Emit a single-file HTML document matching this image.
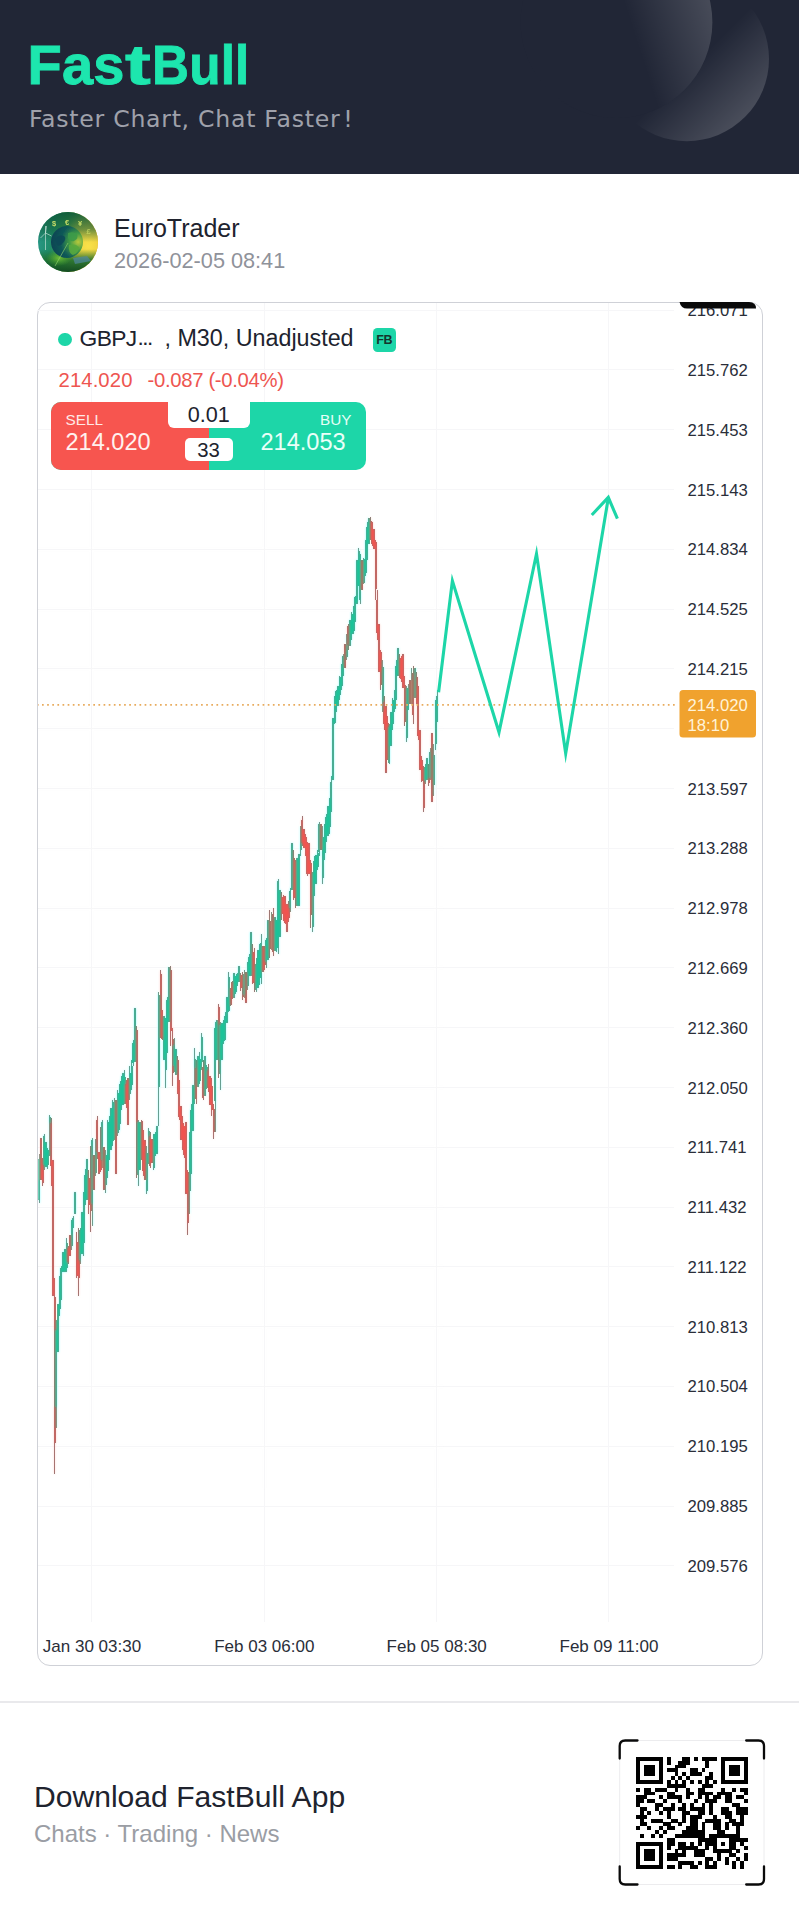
<!DOCTYPE html>
<html lang="en">
<head>
<meta charset="utf-8">
<title>FastBull – EuroTrader chart share</title>
<style>
html,body{margin:0;padding:0;background:#fff;}
body{width:799px;height:1920px;position:relative;overflow:hidden;font-family:"Liberation Sans",sans-serif;color:#20232e;}
.abs{position:absolute;white-space:nowrap;line-height:1;}
#hdr{position:absolute;left:0;top:0;width:799px;height:173.5px;background:#212636;overflow:hidden;}
#logo{left:27.5px;top:36.5px;font-size:56px;font-weight:bold;color:#1de6ae;letter-spacing:0.2px;-webkit-text-stroke:0.9px #1de6ae;}
#tag{left:29px;top:107.5px;font-size:23.6px;color:#9fa1ab;letter-spacing:0.72px;font-family:"DejaVu Sans",sans-serif;}
#avatar{left:38px;top:211.5px;width:60px;height:60px;}
#uname{left:114px;top:215.5px;font-size:25px;color:#20232e;}
#udate{left:114px;top:249.5px;font-size:21.7px;color:#8f929a;}
#card{position:absolute;left:37px;top:302px;width:724px;height:1362px;border:1px solid #cfd1d7;border-radius:13px;box-sizing:content-box;}
#sep{position:absolute;left:0;top:1701px;width:799px;height:1.5px;background:#e9e9ec;}
#dl1{left:34px;top:1782px;font-size:30.1px;color:#20232e;}
#dl2{left:34px;top:1821.5px;font-size:24px;color:#9a9da4;}
svg{position:absolute;left:0;top:0;}
svg text{font-family:"Liberation Sans",sans-serif;}
</style>
</head>
<body>
<div id="hdr">
<svg width="799" height="174" viewBox="0 0 799 174">
<defs>
<linearGradient id="g2" gradientUnits="userSpaceOnUse" x1="682" y1="76" x2="732" y2="126">
<stop offset="0" stop-color="#fff" stop-opacity="0"/><stop offset="1" stop-color="#fff" stop-opacity="0.175"/></linearGradient>
<linearGradient id="g1" gradientUnits="userSpaceOnUse" x1="636" y1="40" x2="714" y2="15">
<stop offset="0" stop-color="#fff" stop-opacity="0"/><stop offset="1" stop-color="#fff" stop-opacity="0.17"/></linearGradient>
</defs>
<circle cx="686.8" cy="59" r="82.2" fill="url(#g2)"/>
<circle cx="616.5" cy="22.2" r="95.9" fill="#212636"/>
<circle cx="616.5" cy="22.2" r="95.9" fill="url(#g1)"/>
</svg>
<div id="logo" class="abs"><span id="lg1">Fas</span><span id="lg2" style="display:inline-block;transform:scaleX(1.38);transform-origin:0 50%;margin-right:8.6px">t</span><span id="lg3" style="display:inline-block;transform:scaleX(0.915);transform-origin:0 50%">Bull</span></div>
<div id="tag" class="abs"><span id="w1">Faster</span> <span id="w2">Chart,</span> <span id="w3">Chat</span> <span id="w4">Faster</span><span id="w5" style="margin-left:3px">!</span></div>
</div>

<svg id="avatar" class="abs" width="60" height="60" viewBox="0 0 60 60" style="left:38px;top:211.5px;">
<defs>
<clipPath id="avc"><circle cx="30" cy="30" r="30"/></clipPath>
<linearGradient id="avbg" x1="0" y1="0" x2="1" y2="0.15">
<stop offset="0" stop-color="#2a9a8e"/><stop offset="0.28" stop-color="#1f8c6a"/><stop offset="0.5" stop-color="#4a9f45"/><stop offset="0.68" stop-color="#bcc43a"/><stop offset="0.86" stop-color="#ecc934"/><stop offset="1" stop-color="#dc9a28"/></linearGradient>
<radialGradient id="avsun" cx="0.84" cy="0.57" r="0.48"><stop offset="0" stop-color="#f9e24a"/><stop offset="0.55" stop-color="#eed23e" stop-opacity="0.9"/><stop offset="1" stop-color="#d6c23a" stop-opacity="0"/></radialGradient>
<linearGradient id="avtop" x1="0" y1="0" x2="0" y2="1"><stop offset="0" stop-color="#0f5a3c" stop-opacity="0.95"/><stop offset="0.3" stop-color="#12603f" stop-opacity="0.55"/><stop offset="0.5" stop-color="#12603f" stop-opacity="0"/></linearGradient>
<linearGradient id="avbot" x1="0" y1="0" x2="0" y2="1"><stop offset="0.62" stop-color="#1d6a2c" stop-opacity="0"/><stop offset="0.8" stop-color="#1f7030" stop-opacity="0.9"/><stop offset="1" stop-color="#134a22"/></linearGradient>
<radialGradient id="avglobe" cx="0.85" cy="0.5" r="0.9"><stop offset="0" stop-color="#b7c93c"/><stop offset="0.3" stop-color="#3f9a46"/><stop offset="0.6" stop-color="#115a58"/><stop offset="1" stop-color="#0b3f52"/></radialGradient>
<radialGradient id="avgrass" cx="0.5" cy="0.5" r="0.5"><stop offset="0" stop-color="#6dbb35"/><stop offset="1" stop-color="#4aa030" stop-opacity="0"/></radialGradient>
<filter id="avblur" x="-20%" y="-20%" width="140%" height="140%"><feGaussianBlur stdDeviation="0.7"/></filter>
</defs>
<g clip-path="url(#avc)">
<rect width="60" height="60" fill="url(#avbg)"/>
<rect width="60" height="60" fill="url(#avsun)"/>
<rect width="60" height="60" fill="url(#avtop)"/>
<rect width="60" height="60" fill="url(#avbot)"/>
<g filter="url(#avblur)">
<ellipse cx="21" cy="46" rx="13" ry="8" fill="url(#avgrass)"/>
<circle cx="29" cy="30" r="16" fill="url(#avglobe)"/>
<path d="M17 27q4-5 9-3q3 3-1 7q-3 4-6 2z" fill="#0c4658" opacity="0.8"/>
<path d="M30 21q5-2 9 1q2 5-3 7q-4 1-6-3z" fill="#3c9a48" opacity="0.9"/>
<path d="M31 33q6-2 10 2q0 6-6 8q-5-2-4-10z" fill="#58a83e" opacity="0.9"/>
<path d="M35 46l14-2l4 5l-16 3z" fill="#4f86a0" opacity="0.7"/>
<path d="M30 31L17 54" stroke="#8fd06a" stroke-width="0.8" opacity="0.8"/>
<path d="M7.5 14V38M7.500 21l-5 5M7.500 21l6 3M7.500 21l1-7" stroke="#d9efe6" stroke-width="0.8" opacity="0.75" fill="none"/>
</g>
<g font-family="Liberation Sans, sans-serif" font-size="7.5" font-weight="bold" fill="#d3e46a" text-anchor="middle" opacity="0.92">
<text x="16" y="13.500">$</text><text x="29" y="12.500">€</text><text x="42" y="13.500">¥</text><text x="50.5" y="21.500" opacity="0.7">£</text>
</g>
</g>
</svg>
<div id="uname" class="abs">EuroTrader</div>
<div id="udate" class="abs">2026-02-05 08:41</div>

<div id="card"></div>

<svg width="799" height="1920" viewBox="0 0 799 1920">
<g fill="none" shape-rendering="crispEdges">
<path d="M38 310.5H674" stroke="#f6f6f8" stroke-width="1"/>
<path d="M38 369.5H674" stroke="#f6f6f8" stroke-width="1"/>
<path d="M38 429.5H674" stroke="#f6f6f8" stroke-width="1"/>
<path d="M38 489.5H674" stroke="#f6f6f8" stroke-width="1"/>
<path d="M38 549.5H674" stroke="#f6f6f8" stroke-width="1"/>
<path d="M38 609.5H674" stroke="#f6f6f8" stroke-width="1"/>
<path d="M38 668.5H674" stroke="#f6f6f8" stroke-width="1"/>
<path d="M38 728.5H674" stroke="#f6f6f8" stroke-width="1"/>
<path d="M38 788.5H674" stroke="#f6f6f8" stroke-width="1"/>
<path d="M38 848.5H674" stroke="#f6f6f8" stroke-width="1"/>
<path d="M38 908.5H674" stroke="#f6f6f8" stroke-width="1"/>
<path d="M38 967.5H674" stroke="#f6f6f8" stroke-width="1"/>
<path d="M38 1027.5H674" stroke="#f6f6f8" stroke-width="1"/>
<path d="M38 1087.5H674" stroke="#f6f6f8" stroke-width="1"/>
<path d="M38 1147.5H674" stroke="#f6f6f8" stroke-width="1"/>
<path d="M38 1207.5H674" stroke="#f6f6f8" stroke-width="1"/>
<path d="M38 1266.5H674" stroke="#f6f6f8" stroke-width="1"/>
<path d="M38 1326.5H674" stroke="#f6f6f8" stroke-width="1"/>
<path d="M38 1386.5H674" stroke="#f6f6f8" stroke-width="1"/>
<path d="M38 1446.5H674" stroke="#f6f6f8" stroke-width="1"/>
<path d="M38 1506.5H674" stroke="#f6f6f8" stroke-width="1"/>
<path d="M38 1565.5H674" stroke="#f6f6f8" stroke-width="1"/>
<path d="M91.5 303V1622" stroke="#f6f6f8" stroke-width="1"/>
<path d="M264.5 303V1622" stroke="#f6f6f8" stroke-width="1"/>
<path d="M436.5 303V1622" stroke="#f6f6f8" stroke-width="1"/>
<path d="M608.5 303V1622" stroke="#f6f6f8" stroke-width="1"/>
</g>
<!-- black drag bar clipped at top-right of price axis -->
<defs>
<filter id="chroma" filterUnits="userSpaceOnUse" x="38" y="500" width="406" height="990" color-interpolation-filters="sRGB">
<feGaussianBlur in="SourceGraphic" stdDeviation="1.1 0.9" result="B"/>
<feColorMatrix in="SourceGraphic" type="matrix" values="0.299 0.587 0.114 0 0  0.299 0.587 0.114 0 0  0.299 0.587 0.114 0 0  0 0 0 0 1" result="Ys"/>
<feColorMatrix in="B" type="matrix" values="0.299 0.587 0.114 0 0  0.299 0.587 0.114 0 0  0.299 0.587 0.114 0 0  0 0 0 0 1" result="Yb"/>
<feComposite in="Ys" in2="B" operator="arithmetic" k1="0" k2="0.5" k3="0.5" k4="0" result="T"/>
<feComposite in="T" in2="Yb" operator="arithmetic" k1="0" k2="2" k3="-1" k4="0"/>
</filter>
</defs>
<g filter="url(#chroma)">
<rect x="38" y="500" width="406" height="990" fill="#fff"/>
<g fill="none" shape-rendering="crispEdges">
<path d="M38 310.5H674" stroke="#f6f6f8" stroke-width="1"/>
<path d="M38 369.5H674" stroke="#f6f6f8" stroke-width="1"/>
<path d="M38 429.5H674" stroke="#f6f6f8" stroke-width="1"/>
<path d="M38 489.5H674" stroke="#f6f6f8" stroke-width="1"/>
<path d="M38 549.5H674" stroke="#f6f6f8" stroke-width="1"/>
<path d="M38 609.5H674" stroke="#f6f6f8" stroke-width="1"/>
<path d="M38 668.5H674" stroke="#f6f6f8" stroke-width="1"/>
<path d="M38 728.5H674" stroke="#f6f6f8" stroke-width="1"/>
<path d="M38 788.5H674" stroke="#f6f6f8" stroke-width="1"/>
<path d="M38 848.5H674" stroke="#f6f6f8" stroke-width="1"/>
<path d="M38 908.5H674" stroke="#f6f6f8" stroke-width="1"/>
<path d="M38 967.5H674" stroke="#f6f6f8" stroke-width="1"/>
<path d="M38 1027.5H674" stroke="#f6f6f8" stroke-width="1"/>
<path d="M38 1087.5H674" stroke="#f6f6f8" stroke-width="1"/>
<path d="M38 1147.5H674" stroke="#f6f6f8" stroke-width="1"/>
<path d="M38 1207.5H674" stroke="#f6f6f8" stroke-width="1"/>
<path d="M38 1266.5H674" stroke="#f6f6f8" stroke-width="1"/>
<path d="M38 1326.5H674" stroke="#f6f6f8" stroke-width="1"/>
<path d="M38 1386.5H674" stroke="#f6f6f8" stroke-width="1"/>
<path d="M38 1446.5H674" stroke="#f6f6f8" stroke-width="1"/>
<path d="M38 1506.5H674" stroke="#f6f6f8" stroke-width="1"/>
<path d="M38 1565.5H674" stroke="#f6f6f8" stroke-width="1"/>
<path d="M91.5 303V1622" stroke="#f6f6f8" stroke-width="1"/>
<path d="M264.5 303V1622" stroke="#f6f6f8" stroke-width="1"/>
<path d="M436.5 303V1622" stroke="#f6f6f8" stroke-width="1"/>
<path d="M608.5 303V1622" stroke="#f6f6f8" stroke-width="1"/>
</g>
<g fill="none" shape-rendering="crispEdges">
<path d="M39.2 1154.0V1203.0" stroke="#1bc49a" stroke-width="1.3"/>
<path d="M39.2 1158.5V1200.1" stroke="#1bc49a" stroke-width="2.0"/>
<path d="M40.9 1138.0V1180.0" stroke="#f0544f" stroke-width="1.3"/>
<path d="M40.9 1144.5V1178.2" stroke="#f0544f" stroke-width="2.0"/>
<path d="M42.7 1158.0V1186.0" stroke="#f0544f" stroke-width="1.3"/>
<path d="M42.7 1161.7V1183.2" stroke="#f0544f" stroke-width="2.0"/>
<path d="M44.4 1134.0V1170.0" stroke="#1bc49a" stroke-width="1.3"/>
<path d="M44.4 1135.5V1165.4" stroke="#1bc49a" stroke-width="2.0"/>
<path d="M46.1 1141.7V1167.3" stroke="#1bc49a" stroke-width="1.3"/>
<path d="M46.1 1142.8V1166.1" stroke="#1bc49a" stroke-width="2.0"/>
<path d="M47.8 1148.0V1169.0" stroke="#1bc49a" stroke-width="1.3"/>
<path d="M47.8 1150.3V1165.1" stroke="#1bc49a" stroke-width="2.0"/>
<path d="M49.5 1115.0V1156.0" stroke="#1bc49a" stroke-width="1.3"/>
<path d="M49.5 1117.2V1153.0" stroke="#1bc49a" stroke-width="2.0"/>
<path d="M51.2 1118.0V1186.0" stroke="#f0544f" stroke-width="1.3"/>
<path d="M51.2 1122.8V1166.1" stroke="#f0544f" stroke-width="2.0"/>
<path d="M52.9 1160.0V1296.0" stroke="#f0544f" stroke-width="1.3"/>
<path d="M52.9 1169.0V1267.5" stroke="#f0544f" stroke-width="2.0"/>
<path d="M54.6 1278.0V1474.0" stroke="#f0544f" stroke-width="1.3"/>
<path d="M54.6 1297.2V1443.2" stroke="#f0544f" stroke-width="2.0"/>
<path d="M56.3 1320.0V1428.0" stroke="#1bc49a" stroke-width="1.3"/>
<path d="M56.3 1329.6V1407.1" stroke="#1bc49a" stroke-width="2.0"/>
<path d="M58.0 1304.0V1352.0" stroke="#1bc49a" stroke-width="1.3"/>
<path d="M58.0 1306.8V1349.5" stroke="#1bc49a" stroke-width="2.0"/>
<path d="M59.7 1276.0V1316.0" stroke="#1bc49a" stroke-width="1.3"/>
<path d="M59.7 1279.5V1308.6" stroke="#1bc49a" stroke-width="2.0"/>
<path d="M61.4 1266.0V1300.0" stroke="#1bc49a" stroke-width="1.3"/>
<path d="M61.4 1268.2V1295.2" stroke="#1bc49a" stroke-width="2.0"/>
<path d="M63.1 1252.0V1272.0" stroke="#1bc49a" stroke-width="1.3"/>
<path d="M63.1 1255.0V1270.0" stroke="#1bc49a" stroke-width="2.0"/>
<path d="M64.9 1248.6V1271.7" stroke="#1bc49a" stroke-width="1.3"/>
<path d="M64.9 1249.5V1270.1" stroke="#1bc49a" stroke-width="2.0"/>
<path d="M66.6 1238.0V1272.0" stroke="#1bc49a" stroke-width="1.3"/>
<path d="M66.6 1243.4V1268.2" stroke="#1bc49a" stroke-width="2.0"/>
<path d="M68.3 1246.0V1264.0" stroke="#f0544f" stroke-width="1.3"/>
<path d="M68.3 1247.6V1261.5" stroke="#f0544f" stroke-width="2.0"/>
<path d="M70.0 1235.2V1255.9" stroke="#f0544f" stroke-width="1.3"/>
<path d="M70.0 1238.9V1252.5" stroke="#f0544f" stroke-width="2.0"/>
<path d="M71.7 1220.0V1250.0" stroke="#1bc49a" stroke-width="1.3"/>
<path d="M71.7 1222.3V1245.8" stroke="#1bc49a" stroke-width="2.0"/>
<path d="M73.4 1216.0V1228.0" stroke="#1bc49a" stroke-width="1.3"/>
<path d="M73.4 1217.6V1225.6" stroke="#1bc49a" stroke-width="2.0"/>
<path d="M75.1 1192.0V1214.0" stroke="#1bc49a" stroke-width="1.3"/>
<path d="M75.1 1195.7V1212.1" stroke="#1bc49a" stroke-width="2.0"/>
<path d="M76.8 1232.0V1278.0" stroke="#f0544f" stroke-width="1.3"/>
<path d="M76.8 1241.9V1275.6" stroke="#f0544f" stroke-width="2.0"/>
<path d="M78.5 1228.0V1296.0" stroke="#f0544f" stroke-width="1.3"/>
<path d="M78.5 1231.6V1278.1" stroke="#f0544f" stroke-width="2.0"/>
<path d="M80.2 1228.0V1264.0" stroke="#1bc49a" stroke-width="1.3"/>
<path d="M80.2 1230.1V1259.6" stroke="#1bc49a" stroke-width="2.0"/>
<path d="M81.9 1211.5V1254.3" stroke="#1bc49a" stroke-width="1.3"/>
<path d="M81.9 1219.0V1248.4" stroke="#1bc49a" stroke-width="2.0"/>
<path d="M83.6 1192.0V1256.0" stroke="#1bc49a" stroke-width="1.3"/>
<path d="M83.6 1197.8V1243.4" stroke="#1bc49a" stroke-width="2.0"/>
<path d="M85.4 1169.0V1205.0" stroke="#1bc49a" stroke-width="1.3"/>
<path d="M85.4 1174.8V1199.9" stroke="#1bc49a" stroke-width="2.0"/>
<path d="M87.1 1159.0V1200.0" stroke="#1bc49a" stroke-width="1.3"/>
<path d="M87.1 1164.7V1195.2" stroke="#1bc49a" stroke-width="2.0"/>
<path d="M88.8 1170.0V1214.0" stroke="#f0544f" stroke-width="1.3"/>
<path d="M88.8 1178.3V1204.8" stroke="#f0544f" stroke-width="2.0"/>
<path d="M90.5 1146.0V1232.0" stroke="#f0544f" stroke-width="1.3"/>
<path d="M90.5 1151.0V1210.5" stroke="#f0544f" stroke-width="2.0"/>
<path d="M92.2 1138.0V1226.0" stroke="#1bc49a" stroke-width="1.3"/>
<path d="M92.2 1140.2V1203.5" stroke="#1bc49a" stroke-width="2.0"/>
<path d="M93.9 1155.0V1190.0" stroke="#f0544f" stroke-width="1.3"/>
<path d="M93.9 1160.4V1182.3" stroke="#f0544f" stroke-width="2.0"/>
<path d="M95.6 1139.0V1176.0" stroke="#1bc49a" stroke-width="1.3"/>
<path d="M95.6 1145.9V1172.9" stroke="#1bc49a" stroke-width="2.0"/>
<path d="M97.3 1115.5V1159.0" stroke="#f0544f" stroke-width="1.3"/>
<path d="M97.3 1120.0V1152.2" stroke="#f0544f" stroke-width="2.0"/>
<path d="M99.0 1152.0V1174.0" stroke="#f0544f" stroke-width="1.3"/>
<path d="M99.0 1152.8V1171.4" stroke="#f0544f" stroke-width="2.0"/>
<path d="M100.7 1127.0V1172.0" stroke="#f0544f" stroke-width="1.3"/>
<path d="M100.7 1129.8V1169.6" stroke="#f0544f" stroke-width="2.0"/>
<path d="M102.4 1120.0V1168.0" stroke="#1bc49a" stroke-width="1.3"/>
<path d="M102.4 1122.0V1159.6" stroke="#1bc49a" stroke-width="2.0"/>
<path d="M104.1 1147.0V1190.0" stroke="#f0544f" stroke-width="1.3"/>
<path d="M104.1 1149.3V1186.7" stroke="#f0544f" stroke-width="2.0"/>
<path d="M105.8 1150.0V1193.0" stroke="#1bc49a" stroke-width="1.3"/>
<path d="M105.8 1154.5V1184.6" stroke="#1bc49a" stroke-width="2.0"/>
<path d="M107.6 1120.0V1178.0" stroke="#1bc49a" stroke-width="1.3"/>
<path d="M107.6 1122.6V1171.3" stroke="#1bc49a" stroke-width="2.0"/>
<path d="M109.3 1116.0V1160.0" stroke="#1bc49a" stroke-width="1.3"/>
<path d="M109.3 1121.9V1151.3" stroke="#1bc49a" stroke-width="2.0"/>
<path d="M111.0 1108.0V1150.0" stroke="#1bc49a" stroke-width="1.3"/>
<path d="M111.0 1115.8V1141.8" stroke="#1bc49a" stroke-width="2.0"/>
<path d="M112.7 1100.0V1146.0" stroke="#1bc49a" stroke-width="1.3"/>
<path d="M112.7 1103.8V1141.0" stroke="#1bc49a" stroke-width="2.0"/>
<path d="M114.4 1098.0V1140.0" stroke="#1bc49a" stroke-width="1.3"/>
<path d="M114.4 1102.1V1131.7" stroke="#1bc49a" stroke-width="2.0"/>
<path d="M116.1 1100.0V1174.0" stroke="#f0544f" stroke-width="1.3"/>
<path d="M116.1 1107.1V1161.2" stroke="#f0544f" stroke-width="2.0"/>
<path d="M117.8 1090.0V1136.0" stroke="#1bc49a" stroke-width="1.3"/>
<path d="M117.8 1092.9V1132.6" stroke="#1bc49a" stroke-width="2.0"/>
<path d="M119.5 1084.0V1130.0" stroke="#1bc49a" stroke-width="1.3"/>
<path d="M119.5 1087.4V1124.4" stroke="#1bc49a" stroke-width="2.0"/>
<path d="M121.2 1076.0V1110.0" stroke="#1bc49a" stroke-width="1.3"/>
<path d="M121.2 1080.8V1107.3" stroke="#1bc49a" stroke-width="2.0"/>
<path d="M122.9 1073.2V1104.7" stroke="#1bc49a" stroke-width="1.3"/>
<path d="M122.9 1076.4V1100.3" stroke="#1bc49a" stroke-width="2.0"/>
<path d="M124.6 1070.0V1104.0" stroke="#1bc49a" stroke-width="1.3"/>
<path d="M124.6 1077.2V1098.5" stroke="#1bc49a" stroke-width="2.0"/>
<path d="M126.3 1080.0V1108.0" stroke="#f0544f" stroke-width="1.3"/>
<path d="M126.3 1083.6V1103.9" stroke="#f0544f" stroke-width="2.0"/>
<path d="M128.1 1078.0V1125.0" stroke="#f0544f" stroke-width="1.3"/>
<path d="M128.1 1085.4V1123.1" stroke="#f0544f" stroke-width="2.0"/>
<path d="M129.8 1066.0V1100.0" stroke="#1bc49a" stroke-width="1.3"/>
<path d="M129.8 1072.8V1093.9" stroke="#1bc49a" stroke-width="2.0"/>
<path d="M131.5 1060.0V1090.0" stroke="#1bc49a" stroke-width="1.3"/>
<path d="M131.5 1065.9V1084.6" stroke="#1bc49a" stroke-width="2.0"/>
<path d="M133.2 1040.0V1066.0" stroke="#1bc49a" stroke-width="1.3"/>
<path d="M133.2 1042.7V1063.2" stroke="#1bc49a" stroke-width="2.0"/>
<path d="M134.9 1008.0V1062.0" stroke="#1bc49a" stroke-width="1.3"/>
<path d="M134.9 1010.7V1053.9" stroke="#1bc49a" stroke-width="2.0"/>
<path d="M136.6 1026.0V1178.0" stroke="#f0544f" stroke-width="1.3"/>
<path d="M136.6 1029.8V1153.7" stroke="#f0544f" stroke-width="2.0"/>
<path d="M138.3 1120.0V1186.0" stroke="#1bc49a" stroke-width="1.3"/>
<path d="M138.3 1122.4V1174.5" stroke="#1bc49a" stroke-width="2.0"/>
<path d="M140.0 1122.0V1170.0" stroke="#1bc49a" stroke-width="1.3"/>
<path d="M140.0 1126.5V1168.1" stroke="#1bc49a" stroke-width="2.0"/>
<path d="M141.7 1120.0V1160.0" stroke="#f0544f" stroke-width="1.3"/>
<path d="M141.7 1121.2V1157.7" stroke="#f0544f" stroke-width="2.0"/>
<path d="M143.4 1130.0V1176.0" stroke="#f0544f" stroke-width="1.3"/>
<path d="M143.4 1132.3V1171.4" stroke="#f0544f" stroke-width="2.0"/>
<path d="M145.1 1140.0V1180.0" stroke="#f0544f" stroke-width="1.3"/>
<path d="M145.1 1141.4V1172.2" stroke="#f0544f" stroke-width="2.0"/>
<path d="M146.8 1146.0V1194.0" stroke="#1bc49a" stroke-width="1.3"/>
<path d="M146.8 1153.0V1191.2" stroke="#1bc49a" stroke-width="2.0"/>
<path d="M148.5 1128.0V1164.0" stroke="#1bc49a" stroke-width="1.3"/>
<path d="M148.5 1130.8V1160.5" stroke="#1bc49a" stroke-width="2.0"/>
<path d="M150.3 1132.0V1168.0" stroke="#f0544f" stroke-width="1.3"/>
<path d="M150.3 1135.6V1166.1" stroke="#f0544f" stroke-width="2.0"/>
<path d="M152.0 1138.5V1162.5" stroke="#f0544f" stroke-width="1.3"/>
<path d="M152.0 1141.3V1159.6" stroke="#f0544f" stroke-width="2.0"/>
<path d="M153.7 1134.0V1170.0" stroke="#1bc49a" stroke-width="1.3"/>
<path d="M153.7 1135.7V1168.2" stroke="#1bc49a" stroke-width="2.0"/>
<path d="M155.4 1132.0V1156.0" stroke="#1bc49a" stroke-width="1.3"/>
<path d="M155.4 1134.3V1154.1" stroke="#1bc49a" stroke-width="2.0"/>
<path d="M157.1 1126.0V1154.0" stroke="#1bc49a" stroke-width="1.3"/>
<path d="M157.1 1131.2V1152.3" stroke="#1bc49a" stroke-width="2.0"/>
<path d="M158.8 992.0V1126.0" stroke="#1bc49a" stroke-width="1.3"/>
<path d="M158.8 994.9V1086.8" stroke="#1bc49a" stroke-width="2.0"/>
<path d="M160.5 970.0V1038.0" stroke="#f0544f" stroke-width="1.3"/>
<path d="M160.5 974.2V1026.3" stroke="#f0544f" stroke-width="2.0"/>
<path d="M162.2 1010.0V1040.0" stroke="#f0544f" stroke-width="1.3"/>
<path d="M162.2 1014.0V1038.9" stroke="#f0544f" stroke-width="2.0"/>
<path d="M163.9 1016.0V1060.0" stroke="#1bc49a" stroke-width="1.3"/>
<path d="M163.9 1021.7V1050.5" stroke="#1bc49a" stroke-width="2.0"/>
<path d="M165.6 1018.0V1088.0" stroke="#1bc49a" stroke-width="1.3"/>
<path d="M165.6 1024.2V1070.2" stroke="#1bc49a" stroke-width="2.0"/>
<path d="M167.3 996.8V1052.6" stroke="#1bc49a" stroke-width="1.3"/>
<path d="M167.3 1000.3V1042.8" stroke="#1bc49a" stroke-width="2.0"/>
<path d="M169.0 967.0V1022.0" stroke="#1bc49a" stroke-width="1.3"/>
<path d="M169.0 974.2V1012.2" stroke="#1bc49a" stroke-width="2.0"/>
<path d="M170.8 966.0V1046.0" stroke="#f0544f" stroke-width="1.3"/>
<path d="M170.8 969.7V1031.3" stroke="#f0544f" stroke-width="2.0"/>
<path d="M172.5 1028.0V1086.0" stroke="#f0544f" stroke-width="1.3"/>
<path d="M172.5 1038.7V1073.4" stroke="#f0544f" stroke-width="2.0"/>
<path d="M174.2 1038.0V1072.0" stroke="#1bc49a" stroke-width="1.3"/>
<path d="M174.2 1044.5V1065.8" stroke="#1bc49a" stroke-width="2.0"/>
<path d="M175.9 1049.3V1074.7" stroke="#1bc49a" stroke-width="1.3"/>
<path d="M175.9 1051.1V1071.4" stroke="#1bc49a" stroke-width="2.0"/>
<path d="M177.6 1056.0V1094.0" stroke="#f0544f" stroke-width="1.3"/>
<path d="M177.6 1059.7V1092.7" stroke="#f0544f" stroke-width="2.0"/>
<path d="M179.3 1080.0V1120.0" stroke="#f0544f" stroke-width="1.3"/>
<path d="M179.3 1081.4V1116.7" stroke="#f0544f" stroke-width="2.0"/>
<path d="M181.0 1106.0V1140.0" stroke="#f0544f" stroke-width="1.3"/>
<path d="M181.0 1108.7V1134.5" stroke="#f0544f" stroke-width="2.0"/>
<path d="M182.7 1116.0V1150.0" stroke="#f0544f" stroke-width="1.3"/>
<path d="M182.7 1123.2V1146.1" stroke="#f0544f" stroke-width="2.0"/>
<path d="M184.4 1126.3V1157.8" stroke="#f0544f" stroke-width="1.3"/>
<path d="M184.4 1133.0V1154.6" stroke="#f0544f" stroke-width="2.0"/>
<path d="M186.1 1122.0V1194.0" stroke="#f0544f" stroke-width="1.3"/>
<path d="M186.1 1124.7V1180.8" stroke="#f0544f" stroke-width="2.0"/>
<path d="M187.8 1170.0V1235.0" stroke="#f0544f" stroke-width="1.3"/>
<path d="M187.8 1172.3V1223.3" stroke="#f0544f" stroke-width="2.0"/>
<path d="M189.5 1132.0V1214.0" stroke="#1bc49a" stroke-width="1.3"/>
<path d="M189.5 1137.7V1190.6" stroke="#1bc49a" stroke-width="2.0"/>
<path d="M191.2 1104.0V1174.0" stroke="#1bc49a" stroke-width="1.3"/>
<path d="M191.2 1110.1V1158.5" stroke="#1bc49a" stroke-width="2.0"/>
<path d="M193.0 1084.7V1131.4" stroke="#1bc49a" stroke-width="1.3"/>
<path d="M193.0 1086.8V1124.2" stroke="#1bc49a" stroke-width="2.0"/>
<path d="M194.7 1048.0V1104.0" stroke="#1bc49a" stroke-width="1.3"/>
<path d="M194.7 1059.4V1094.0" stroke="#1bc49a" stroke-width="2.0"/>
<path d="M196.4 1060.0V1104.0" stroke="#f0544f" stroke-width="1.3"/>
<path d="M196.4 1067.6V1098.7" stroke="#f0544f" stroke-width="2.0"/>
<path d="M198.1 1056.2V1086.5" stroke="#1bc49a" stroke-width="1.3"/>
<path d="M198.1 1059.1V1081.0" stroke="#1bc49a" stroke-width="2.0"/>
<path d="M199.8 1052.0V1084.0" stroke="#1bc49a" stroke-width="1.3"/>
<path d="M199.8 1058.9V1080.6" stroke="#1bc49a" stroke-width="2.0"/>
<path d="M201.5 1033.0V1070.0" stroke="#1bc49a" stroke-width="1.3"/>
<path d="M201.5 1036.9V1062.2" stroke="#1bc49a" stroke-width="2.0"/>
<path d="M203.2 1060.0V1100.0" stroke="#f0544f" stroke-width="1.3"/>
<path d="M203.2 1066.7V1097.5" stroke="#f0544f" stroke-width="2.0"/>
<path d="M204.9 1056.0V1096.0" stroke="#1bc49a" stroke-width="1.3"/>
<path d="M204.9 1058.2V1093.7" stroke="#1bc49a" stroke-width="2.0"/>
<path d="M206.6 1065.1V1089.2" stroke="#1bc49a" stroke-width="1.3"/>
<path d="M206.6 1066.5V1084.7" stroke="#1bc49a" stroke-width="2.0"/>
<path d="M208.3 1064.0V1092.0" stroke="#f0544f" stroke-width="1.3"/>
<path d="M208.3 1070.1V1087.7" stroke="#f0544f" stroke-width="2.0"/>
<path d="M210.0 1075.7V1104.9" stroke="#f0544f" stroke-width="1.3"/>
<path d="M210.0 1077.3V1103.9" stroke="#f0544f" stroke-width="2.0"/>
<path d="M211.7 1078.0V1116.0" stroke="#f0544f" stroke-width="1.3"/>
<path d="M211.7 1086.1V1110.2" stroke="#f0544f" stroke-width="2.0"/>
<path d="M213.5 1104.0V1139.0" stroke="#f0544f" stroke-width="1.3"/>
<path d="M213.5 1108.6V1131.7" stroke="#f0544f" stroke-width="2.0"/>
<path d="M215.2 1022.0V1132.0" stroke="#1bc49a" stroke-width="1.3"/>
<path d="M215.2 1028.0V1101.1" stroke="#1bc49a" stroke-width="2.0"/>
<path d="M216.9 1020.0V1060.0" stroke="#1bc49a" stroke-width="1.3"/>
<path d="M216.9 1027.5V1057.2" stroke="#1bc49a" stroke-width="2.0"/>
<path d="M218.6 1004.0V1078.0" stroke="#f0544f" stroke-width="1.3"/>
<path d="M218.6 1007.0V1063.6" stroke="#f0544f" stroke-width="2.0"/>
<path d="M220.3 1022.0V1090.0" stroke="#1bc49a" stroke-width="1.3"/>
<path d="M220.3 1024.7V1073.8" stroke="#1bc49a" stroke-width="2.0"/>
<path d="M222.0 1022.8V1060.1" stroke="#1bc49a" stroke-width="1.3"/>
<path d="M222.0 1024.9V1052.5" stroke="#1bc49a" stroke-width="2.0"/>
<path d="M223.7 1020.0V1044.0" stroke="#1bc49a" stroke-width="1.3"/>
<path d="M223.7 1022.3V1041.2" stroke="#1bc49a" stroke-width="2.0"/>
<path d="M225.4 1012.0V1040.0" stroke="#1bc49a" stroke-width="1.3"/>
<path d="M225.4 1015.9V1034.3" stroke="#1bc49a" stroke-width="2.0"/>
<path d="M227.1 997.3V1022.5" stroke="#1bc49a" stroke-width="1.3"/>
<path d="M227.1 1000.5V1019.2" stroke="#1bc49a" stroke-width="2.0"/>
<path d="M228.8 972.0V1012.0" stroke="#1bc49a" stroke-width="1.3"/>
<path d="M228.8 977.2V1010.7" stroke="#1bc49a" stroke-width="2.0"/>
<path d="M230.5 988.0V1006.0" stroke="#f0544f" stroke-width="1.3"/>
<path d="M230.5 990.0V1004.8" stroke="#f0544f" stroke-width="2.0"/>
<path d="M232.2 980.9V999.1" stroke="#f0544f" stroke-width="1.3"/>
<path d="M232.2 982.0V996.9" stroke="#f0544f" stroke-width="2.0"/>
<path d="M233.9 973.0V998.0" stroke="#1bc49a" stroke-width="1.3"/>
<path d="M233.9 977.2V994.6" stroke="#1bc49a" stroke-width="2.0"/>
<path d="M235.7 976.0V994.0" stroke="#1bc49a" stroke-width="1.3"/>
<path d="M235.7 977.7V991.7" stroke="#1bc49a" stroke-width="2.0"/>
<path d="M237.4 973.2V986.1" stroke="#1bc49a" stroke-width="1.3"/>
<path d="M237.4 973.8V984.4" stroke="#1bc49a" stroke-width="2.0"/>
<path d="M239.1 966.0V982.0" stroke="#1bc49a" stroke-width="1.3"/>
<path d="M239.1 967.2V980.7" stroke="#1bc49a" stroke-width="2.0"/>
<path d="M240.8 972.8V990.6" stroke="#f0544f" stroke-width="1.3"/>
<path d="M240.8 975.2V987.5" stroke="#f0544f" stroke-width="2.0"/>
<path d="M242.5 972.0V1000.0" stroke="#f0544f" stroke-width="1.3"/>
<path d="M242.5 977.7V996.8" stroke="#f0544f" stroke-width="2.0"/>
<path d="M244.2 970.0V998.0" stroke="#1bc49a" stroke-width="1.3"/>
<path d="M244.2 974.1V994.5" stroke="#1bc49a" stroke-width="2.0"/>
<path d="M245.9 972.0V1003.0" stroke="#f0544f" stroke-width="1.3"/>
<path d="M245.9 975.9V998.0" stroke="#f0544f" stroke-width="2.0"/>
<path d="M247.6 962.0V990.0" stroke="#1bc49a" stroke-width="1.3"/>
<path d="M247.6 965.2V986.3" stroke="#1bc49a" stroke-width="2.0"/>
<path d="M249.3 954.0V976.0" stroke="#1bc49a" stroke-width="1.3"/>
<path d="M249.3 956.7V971.4" stroke="#1bc49a" stroke-width="2.0"/>
<path d="M251.0 932.0V976.0" stroke="#1bc49a" stroke-width="1.3"/>
<path d="M251.0 939.2V967.4" stroke="#1bc49a" stroke-width="2.0"/>
<path d="M252.7 944.0V984.0" stroke="#f0544f" stroke-width="1.3"/>
<path d="M252.7 952.4V980.8" stroke="#f0544f" stroke-width="2.0"/>
<path d="M254.4 948.0V992.0" stroke="#f0544f" stroke-width="1.3"/>
<path d="M254.4 954.0V982.8" stroke="#f0544f" stroke-width="2.0"/>
<path d="M256.2 958.0V992.0" stroke="#1bc49a" stroke-width="1.3"/>
<path d="M256.2 964.4V990.1" stroke="#1bc49a" stroke-width="2.0"/>
<path d="M257.9 950.0V988.0" stroke="#1bc49a" stroke-width="1.3"/>
<path d="M257.9 952.0V983.7" stroke="#1bc49a" stroke-width="2.0"/>
<path d="M259.6 944.1V984.5" stroke="#1bc49a" stroke-width="1.3"/>
<path d="M259.6 945.9V978.2" stroke="#1bc49a" stroke-width="2.0"/>
<path d="M261.3 934.0V984.0" stroke="#1bc49a" stroke-width="1.3"/>
<path d="M261.3 942.9V974.0" stroke="#1bc49a" stroke-width="2.0"/>
<path d="M263.0 946.0V972.0" stroke="#f0544f" stroke-width="1.3"/>
<path d="M263.0 947.5V967.7" stroke="#f0544f" stroke-width="2.0"/>
<path d="M264.7 946.4V969.8" stroke="#f0544f" stroke-width="1.3"/>
<path d="M264.7 951.0V964.8" stroke="#f0544f" stroke-width="2.0"/>
<path d="M266.4 938.0V968.0" stroke="#1bc49a" stroke-width="1.3"/>
<path d="M266.4 940.2V961.7" stroke="#1bc49a" stroke-width="2.0"/>
<path d="M268.1 920.0V960.0" stroke="#1bc49a" stroke-width="1.3"/>
<path d="M268.1 924.2V955.1" stroke="#1bc49a" stroke-width="2.0"/>
<path d="M269.8 910.0V958.0" stroke="#f0544f" stroke-width="1.3"/>
<path d="M269.8 920.5V949.0" stroke="#f0544f" stroke-width="2.0"/>
<path d="M271.5 912.0V950.0" stroke="#1bc49a" stroke-width="1.3"/>
<path d="M271.5 914.3V945.7" stroke="#1bc49a" stroke-width="2.0"/>
<path d="M273.2 908.0V956.0" stroke="#f0544f" stroke-width="1.3"/>
<path d="M273.2 914.1V951.5" stroke="#f0544f" stroke-width="2.0"/>
<path d="M274.9 917.1V951.3" stroke="#1bc49a" stroke-width="1.3"/>
<path d="M274.9 922.8V950.1" stroke="#1bc49a" stroke-width="2.0"/>
<path d="M276.6 920.0V952.0" stroke="#1bc49a" stroke-width="1.3"/>
<path d="M276.6 924.3V948.4" stroke="#1bc49a" stroke-width="2.0"/>
<path d="M278.4 879.0V954.0" stroke="#1bc49a" stroke-width="1.3"/>
<path d="M278.4 880.6V939.0" stroke="#1bc49a" stroke-width="2.0"/>
<path d="M280.1 890.2V936.6" stroke="#1bc49a" stroke-width="1.3"/>
<path d="M280.1 892.1V926.5" stroke="#1bc49a" stroke-width="2.0"/>
<path d="M281.8 892.0V920.0" stroke="#f0544f" stroke-width="1.3"/>
<path d="M281.8 897.0V914.0" stroke="#f0544f" stroke-width="2.0"/>
<path d="M283.5 894.8V920.9" stroke="#f0544f" stroke-width="1.3"/>
<path d="M283.5 895.8V916.3" stroke="#f0544f" stroke-width="2.0"/>
<path d="M285.2 896.0V924.0" stroke="#f0544f" stroke-width="1.3"/>
<path d="M285.2 898.3V922.5" stroke="#f0544f" stroke-width="2.0"/>
<path d="M286.9 904.0V932.0" stroke="#f0544f" stroke-width="1.3"/>
<path d="M286.9 907.1V926.3" stroke="#f0544f" stroke-width="2.0"/>
<path d="M288.6 901.2V922.4" stroke="#f0544f" stroke-width="1.3"/>
<path d="M288.6 902.4V918.1" stroke="#f0544f" stroke-width="2.0"/>
<path d="M290.3 888.0V912.0" stroke="#1bc49a" stroke-width="1.3"/>
<path d="M290.3 891.3V908.1" stroke="#1bc49a" stroke-width="2.0"/>
<path d="M292.0 843.0V890.0" stroke="#1bc49a" stroke-width="1.3"/>
<path d="M292.0 845.2V888.1" stroke="#1bc49a" stroke-width="2.0"/>
<path d="M293.7 850.0V900.0" stroke="#f0544f" stroke-width="1.3"/>
<path d="M293.7 858.0V894.5" stroke="#f0544f" stroke-width="2.0"/>
<path d="M295.4 860.0V908.0" stroke="#f0544f" stroke-width="1.3"/>
<path d="M295.4 862.1V898.0" stroke="#f0544f" stroke-width="2.0"/>
<path d="M297.1 858.0V906.0" stroke="#1bc49a" stroke-width="1.3"/>
<path d="M297.1 865.2V897.2" stroke="#1bc49a" stroke-width="2.0"/>
<path d="M298.9 854.0V906.0" stroke="#1bc49a" stroke-width="1.3"/>
<path d="M298.9 856.4V896.0" stroke="#1bc49a" stroke-width="2.0"/>
<path d="M300.6 826.0V856.0" stroke="#1bc49a" stroke-width="1.3"/>
<path d="M300.6 827.3V850.2" stroke="#1bc49a" stroke-width="2.0"/>
<path d="M302.3 816.0V846.0" stroke="#f0544f" stroke-width="1.3"/>
<path d="M302.3 819.5V843.2" stroke="#f0544f" stroke-width="2.0"/>
<path d="M304.0 829.4V847.9" stroke="#f0544f" stroke-width="1.3"/>
<path d="M304.0 830.9V846.9" stroke="#f0544f" stroke-width="2.0"/>
<path d="M305.7 834.0V856.0" stroke="#f0544f" stroke-width="1.3"/>
<path d="M305.7 836.9V854.3" stroke="#f0544f" stroke-width="2.0"/>
<path d="M307.4 842.0V876.0" stroke="#f0544f" stroke-width="1.3"/>
<path d="M307.4 843.7V873.9" stroke="#f0544f" stroke-width="2.0"/>
<path d="M309.1 843.0V874.0" stroke="#f0544f" stroke-width="1.3"/>
<path d="M309.1 844.2V871.9" stroke="#f0544f" stroke-width="2.0"/>
<path d="M310.8 860.0V928.0" stroke="#f0544f" stroke-width="1.3"/>
<path d="M310.8 863.1V914.7" stroke="#f0544f" stroke-width="2.0"/>
<path d="M312.5 872.0V932.0" stroke="#1bc49a" stroke-width="1.3"/>
<path d="M312.5 882.5V926.9" stroke="#1bc49a" stroke-width="2.0"/>
<path d="M314.2 856.0V896.0" stroke="#1bc49a" stroke-width="1.3"/>
<path d="M314.2 861.0V893.4" stroke="#1bc49a" stroke-width="2.0"/>
<path d="M315.9 855.1V883.8" stroke="#1bc49a" stroke-width="1.3"/>
<path d="M315.9 857.3V882.8" stroke="#1bc49a" stroke-width="2.0"/>
<path d="M317.6 850.0V870.0" stroke="#1bc49a" stroke-width="1.3"/>
<path d="M317.6 853.4V867.3" stroke="#1bc49a" stroke-width="2.0"/>
<path d="M319.3 822.0V856.0" stroke="#1bc49a" stroke-width="1.3"/>
<path d="M319.3 824.2V851.9" stroke="#1bc49a" stroke-width="2.0"/>
<path d="M321.1 824.0V850.0" stroke="#f0544f" stroke-width="1.3"/>
<path d="M321.1 829.4V848.7" stroke="#f0544f" stroke-width="2.0"/>
<path d="M322.8 826.0V884.0" stroke="#1bc49a" stroke-width="1.3"/>
<path d="M322.8 836.8V877.5" stroke="#1bc49a" stroke-width="2.0"/>
<path d="M324.5 824.0V860.0" stroke="#1bc49a" stroke-width="1.3"/>
<path d="M324.5 828.5V853.2" stroke="#1bc49a" stroke-width="2.0"/>
<path d="M326.2 814.0V842.0" stroke="#1bc49a" stroke-width="1.3"/>
<path d="M326.2 816.9V838.5" stroke="#1bc49a" stroke-width="2.0"/>
<path d="M327.9 806.0V836.0" stroke="#1bc49a" stroke-width="1.3"/>
<path d="M327.9 810.8V829.5" stroke="#1bc49a" stroke-width="2.0"/>
<path d="M329.6 798.0V834.0" stroke="#1bc49a" stroke-width="1.3"/>
<path d="M329.6 801.4V827.2" stroke="#1bc49a" stroke-width="2.0"/>
<path d="M331.3 776.0V812.0" stroke="#1bc49a" stroke-width="1.3"/>
<path d="M331.3 781.9V806.6" stroke="#1bc49a" stroke-width="2.0"/>
<path d="M333.0 718.0V780.0" stroke="#1bc49a" stroke-width="1.3"/>
<path d="M333.0 721.2V767.5" stroke="#1bc49a" stroke-width="2.0"/>
<path d="M334.7 696.0V724.0" stroke="#1bc49a" stroke-width="1.3"/>
<path d="M334.7 697.1V722.5" stroke="#1bc49a" stroke-width="2.0"/>
<path d="M336.4 690.0V712.0" stroke="#1bc49a" stroke-width="1.3"/>
<path d="M336.4 691.0V708.2" stroke="#1bc49a" stroke-width="2.0"/>
<path d="M338.1 686.0V706.0" stroke="#1bc49a" stroke-width="1.3"/>
<path d="M338.1 687.6V704.8" stroke="#1bc49a" stroke-width="2.0"/>
<path d="M339.8 676.0V700.0" stroke="#1bc49a" stroke-width="1.3"/>
<path d="M339.8 677.1V695.4" stroke="#1bc49a" stroke-width="2.0"/>
<path d="M341.6 664.0V690.0" stroke="#1bc49a" stroke-width="1.3"/>
<path d="M341.6 669.1V685.9" stroke="#1bc49a" stroke-width="2.0"/>
<path d="M343.3 654.0V676.0" stroke="#1bc49a" stroke-width="1.3"/>
<path d="M343.3 655.8V674.3" stroke="#1bc49a" stroke-width="2.0"/>
<path d="M345.0 644.0V668.0" stroke="#f0544f" stroke-width="1.3"/>
<path d="M345.0 646.1V665.2" stroke="#f0544f" stroke-width="2.0"/>
<path d="M346.7 634.0V660.0" stroke="#1bc49a" stroke-width="1.3"/>
<path d="M346.7 635.6V657.0" stroke="#1bc49a" stroke-width="2.0"/>
<path d="M348.4 624.0V650.0" stroke="#f0544f" stroke-width="1.3"/>
<path d="M348.4 626.1V644.5" stroke="#f0544f" stroke-width="2.0"/>
<path d="M350.1 620.0V646.0" stroke="#1bc49a" stroke-width="1.3"/>
<path d="M350.1 625.6V642.5" stroke="#1bc49a" stroke-width="2.0"/>
<path d="M351.8 612.0V640.0" stroke="#1bc49a" stroke-width="1.3"/>
<path d="M351.8 614.1V634.0" stroke="#1bc49a" stroke-width="2.0"/>
<path d="M353.5 606.0V634.0" stroke="#1bc49a" stroke-width="1.3"/>
<path d="M353.5 608.5V631.3" stroke="#1bc49a" stroke-width="2.0"/>
<path d="M355.2 596.0V622.0" stroke="#1bc49a" stroke-width="1.3"/>
<path d="M355.2 596.8V619.3" stroke="#1bc49a" stroke-width="2.0"/>
<path d="M356.9 560.0V604.0" stroke="#1bc49a" stroke-width="1.3"/>
<path d="M356.9 565.3V598.5" stroke="#1bc49a" stroke-width="2.0"/>
<path d="M358.6 548.0V586.0" stroke="#1bc49a" stroke-width="1.3"/>
<path d="M358.6 550.6V581.2" stroke="#1bc49a" stroke-width="2.0"/>
<path d="M360.3 554.0V604.0" stroke="#1bc49a" stroke-width="1.3"/>
<path d="M360.3 555.5V600.0" stroke="#1bc49a" stroke-width="2.0"/>
<path d="M362.0 560.0V590.0" stroke="#f0544f" stroke-width="1.3"/>
<path d="M362.0 561.4V586.8" stroke="#f0544f" stroke-width="2.0"/>
<path d="M363.8 558.0V584.0" stroke="#1bc49a" stroke-width="1.3"/>
<path d="M363.8 559.0V583.1" stroke="#1bc49a" stroke-width="2.0"/>
<path d="M365.5 540.0V576.0" stroke="#1bc49a" stroke-width="1.3"/>
<path d="M365.5 543.2V573.3" stroke="#1bc49a" stroke-width="2.0"/>
<path d="M367.2 522.0V560.0" stroke="#1bc49a" stroke-width="1.3"/>
<path d="M367.2 527.4V555.0" stroke="#1bc49a" stroke-width="2.0"/>
<path d="M368.9 518.0V544.0" stroke="#1bc49a" stroke-width="1.3"/>
<path d="M368.9 522.5V540.0" stroke="#1bc49a" stroke-width="2.0"/>
<path d="M370.6 517.0V540.0" stroke="#f0544f" stroke-width="1.3"/>
<path d="M370.6 520.8V535.5" stroke="#f0544f" stroke-width="2.0"/>
<path d="M372.3 522.0V546.0" stroke="#f0544f" stroke-width="1.3"/>
<path d="M372.3 524.5V543.8" stroke="#f0544f" stroke-width="2.0"/>
<path d="M374.0 529.4V549.3" stroke="#f0544f" stroke-width="1.3"/>
<path d="M374.0 532.8V546.3" stroke="#f0544f" stroke-width="2.0"/>
<path d="M375.7 540.0V600.0" stroke="#f0544f" stroke-width="1.3"/>
<path d="M375.7 542.3V588.7" stroke="#f0544f" stroke-width="2.0"/>
<path d="M377.4 590.0V640.0" stroke="#f0544f" stroke-width="1.3"/>
<path d="M377.4 600.0V632.5" stroke="#f0544f" stroke-width="2.0"/>
<path d="M379.1 624.0V672.0" stroke="#f0544f" stroke-width="1.3"/>
<path d="M379.1 632.1V663.2" stroke="#f0544f" stroke-width="2.0"/>
<path d="M380.8 650.0V690.0" stroke="#f0544f" stroke-width="1.3"/>
<path d="M380.8 652.3V684.8" stroke="#f0544f" stroke-width="2.0"/>
<path d="M382.5 660.0V712.0" stroke="#1bc49a" stroke-width="1.3"/>
<path d="M382.5 666.5V702.2" stroke="#1bc49a" stroke-width="2.0"/>
<path d="M384.3 696.0V730.0" stroke="#f0544f" stroke-width="1.3"/>
<path d="M384.3 702.2V723.6" stroke="#f0544f" stroke-width="2.0"/>
<path d="M386.0 706.0V773.0" stroke="#f0544f" stroke-width="1.3"/>
<path d="M386.0 710.5V754.0" stroke="#f0544f" stroke-width="2.0"/>
<path d="M387.7 716.0V760.0" stroke="#f0544f" stroke-width="1.3"/>
<path d="M387.7 723.0V752.9" stroke="#f0544f" stroke-width="2.0"/>
<path d="M389.4 724.0V764.0" stroke="#1bc49a" stroke-width="1.3"/>
<path d="M389.4 726.9V762.6" stroke="#1bc49a" stroke-width="2.0"/>
<path d="M391.1 712.0V746.0" stroke="#1bc49a" stroke-width="1.3"/>
<path d="M391.1 713.9V742.6" stroke="#1bc49a" stroke-width="2.0"/>
<path d="M392.8 698.0V730.0" stroke="#1bc49a" stroke-width="1.3"/>
<path d="M392.8 699.6V724.0" stroke="#1bc49a" stroke-width="2.0"/>
<path d="M394.5 690.0V712.0" stroke="#1bc49a" stroke-width="1.3"/>
<path d="M394.5 693.0V708.7" stroke="#1bc49a" stroke-width="2.0"/>
<path d="M396.2 660.0V700.0" stroke="#1bc49a" stroke-width="1.3"/>
<path d="M396.2 666.0V693.6" stroke="#1bc49a" stroke-width="2.0"/>
<path d="M397.9 648.0V676.0" stroke="#1bc49a" stroke-width="1.3"/>
<path d="M397.9 651.4V675.1" stroke="#1bc49a" stroke-width="2.0"/>
<path d="M399.6 654.0V678.0" stroke="#f0544f" stroke-width="1.3"/>
<path d="M399.6 658.4V673.9" stroke="#f0544f" stroke-width="2.0"/>
<path d="M401.3 656.0V682.0" stroke="#f0544f" stroke-width="1.3"/>
<path d="M401.3 659.3V678.6" stroke="#f0544f" stroke-width="2.0"/>
<path d="M403.0 654.0V688.0" stroke="#f0544f" stroke-width="1.3"/>
<path d="M403.0 659.3V686.6" stroke="#f0544f" stroke-width="2.0"/>
<path d="M404.7 676.0V726.0" stroke="#f0544f" stroke-width="1.3"/>
<path d="M404.7 684.5V722.1" stroke="#f0544f" stroke-width="2.0"/>
<path d="M406.5 686.0V742.0" stroke="#1bc49a" stroke-width="1.3"/>
<path d="M406.5 688.5V737.5" stroke="#1bc49a" stroke-width="2.0"/>
<path d="M408.2 684.0V710.0" stroke="#1bc49a" stroke-width="1.3"/>
<path d="M408.2 688.4V708.2" stroke="#1bc49a" stroke-width="2.0"/>
<path d="M409.9 680.0V704.0" stroke="#f0544f" stroke-width="1.3"/>
<path d="M409.9 684.1V698.8" stroke="#f0544f" stroke-width="2.0"/>
<path d="M411.6 668.0V704.0" stroke="#1bc49a" stroke-width="1.3"/>
<path d="M411.6 672.5V700.3" stroke="#1bc49a" stroke-width="2.0"/>
<path d="M413.3 666.0V724.0" stroke="#f0544f" stroke-width="1.3"/>
<path d="M413.3 673.0V714.7" stroke="#f0544f" stroke-width="2.0"/>
<path d="M415.0 668.0V698.0" stroke="#1bc49a" stroke-width="1.3"/>
<path d="M415.0 673.3V693.6" stroke="#1bc49a" stroke-width="2.0"/>
<path d="M416.7 672.0V704.0" stroke="#f0544f" stroke-width="1.3"/>
<path d="M416.7 676.9V702.6" stroke="#f0544f" stroke-width="2.0"/>
<path d="M418.4 686.0V740.0" stroke="#f0544f" stroke-width="1.3"/>
<path d="M418.4 689.1V735.8" stroke="#f0544f" stroke-width="2.0"/>
<path d="M420.1 730.0V770.0" stroke="#f0544f" stroke-width="1.3"/>
<path d="M420.1 736.8V766.5" stroke="#f0544f" stroke-width="2.0"/>
<path d="M421.8 756.0V782.0" stroke="#f0544f" stroke-width="1.3"/>
<path d="M421.8 759.6V781.2" stroke="#f0544f" stroke-width="2.0"/>
<path d="M423.5 766.0V812.0" stroke="#f0544f" stroke-width="1.3"/>
<path d="M423.5 767.9V808.3" stroke="#f0544f" stroke-width="2.0"/>
<path d="M425.2 764.0V784.0" stroke="#1bc49a" stroke-width="1.3"/>
<path d="M425.2 767.2V780.8" stroke="#1bc49a" stroke-width="2.0"/>
<path d="M427.0 758.0V780.0" stroke="#1bc49a" stroke-width="1.3"/>
<path d="M427.0 761.5V778.1" stroke="#1bc49a" stroke-width="2.0"/>
<path d="M428.7 764.0V786.0" stroke="#f0544f" stroke-width="1.3"/>
<path d="M428.7 766.8V783.4" stroke="#f0544f" stroke-width="2.0"/>
<path d="M430.4 748.0V780.0" stroke="#1bc49a" stroke-width="1.3"/>
<path d="M430.4 751.8V778.3" stroke="#1bc49a" stroke-width="2.0"/>
<path d="M432.1 733.0V802.0" stroke="#f0544f" stroke-width="1.3"/>
<path d="M432.1 739.3V789.6" stroke="#f0544f" stroke-width="2.0"/>
<path d="M433.8 744.0V796.0" stroke="#1bc49a" stroke-width="1.3"/>
<path d="M433.8 755.2V785.2" stroke="#1bc49a" stroke-width="2.0"/>
<path d="M435.5 700.0V750.0" stroke="#1bc49a" stroke-width="1.3"/>
<path d="M435.5 701.7V744.1" stroke="#1bc49a" stroke-width="2.0"/>
<path d="M437.2 690.0V722.0" stroke="#1bc49a" stroke-width="1.3"/>
<path d="M437.2 695.9V715.2" stroke="#1bc49a" stroke-width="2.0"/>
</g>
</g>
<path d="M674.7 704.8H38" stroke="#e8ab5c" stroke-width="1.7" stroke-dasharray="1.7 3.43" fill="none"/>
<path d="M438.6 692.3L452.4 580.8L499 732.2L536.5 553.8L565.7 753.4L608.3 498" fill="none" stroke="#1dd6a8" stroke-width="3.1" stroke-linejoin="miter" stroke-miterlimit="10"/>
<path d="M591.8 515L608.3 497.4L617.4 518.7" fill="none" stroke="#1dd6a8" stroke-width="3.1" stroke-linejoin="miter"/>
<g font-size="16.7" fill="#2a2e39">
<text x="687.5" y="316.2">216.071</text>
<text x="687.5" y="376.0">215.762</text>
<text x="687.5" y="435.8">215.453</text>
<text x="687.5" y="495.6">215.143</text>
<text x="687.5" y="555.4">214.834</text>
<text x="687.5" y="615.1">214.525</text>
<text x="687.5" y="674.9">214.215</text>
<text x="687.5" y="794.5">213.597</text>
<text x="687.5" y="854.3">213.288</text>
<text x="687.5" y="914.1">212.978</text>
<text x="687.5" y="973.9">212.669</text>
<text x="687.5" y="1033.7">212.360</text>
<text x="687.5" y="1093.5">212.050</text>
<text x="687.5" y="1153.3">211.741</text>
<text x="687.5" y="1213.0">211.432</text>
<text x="687.5" y="1272.8">211.122</text>
<text x="687.5" y="1332.6">210.813</text>
<text x="687.5" y="1392.4">210.504</text>
<text x="687.5" y="1452.2">210.195</text>
<text x="687.5" y="1512.0">209.885</text>
<text x="687.5" y="1571.8">209.576</text>
</g>
<g font-size="17" fill="#2a2e39">
<text x="92" y="1651.5" text-anchor="middle">Jan 30 03:30</text>
<text x="264.3" y="1651.5" text-anchor="middle">Feb 03 06:00</text>
<text x="436.7" y="1651.5" text-anchor="middle">Feb 05 08:30</text>
<text x="609" y="1651.5" text-anchor="middle">Feb 09 11:00</text>
</g>
<path d="M679.5 302H749Q756.5 302.500 756 308.6H687Q681 308.6 679.5 302Z" fill="#0a0a0a"/>
<!-- current price tag -->
<rect x="679.5" y="690" width="76.5" height="47.5" rx="3.5" fill="#f0a22e"/>
<g font-size="16.7" fill="#fff3d8">
<text x="687.5" y="710.5">214.020</text>
<text x="687.5" y="730.5">18:10</text>
</g>
</svg>

<!-- chart legend -->
<div class="abs" style="left:58.2px;top:332.7px;width:13.4px;height:13.4px;border-radius:50%;background:#1dd6a8;"></div>
<div class="abs" id="t1" style="left:79.500px;top:326.500px;font-size:22.8px;letter-spacing:-0.6px;">GBPJ</div>
<div class="abs" id="t1b" style="left:137.5px;top:327px;font-size:22.5px;letter-spacing:-1.5px;">...</div>
<div class="abs" id="t2" style="left:164.500px;top:326.500px;font-size:23.3px;">, M30, Unadjusted</div>
<div class="abs" style="left:372.5px;top:328px;width:23.5px;height:24px;border-radius:4.5px;background:#1dd6a8;"></div>
<div class="abs" style="left:372.5px;top:334px;width:23.5px;text-align:center;font-size:12.5px;font-weight:bold;color:#14352e;letter-spacing:-0.3px;">FB</div>
<div class="abs" id="p1" style="left:58.5px;top:369.5px;font-size:20.3px;letter-spacing:0.1px;color:#ee5550;">214.020</div>
<div class="abs" id="p2" style="left:147.5px;top:369.5px;font-size:20.3px;letter-spacing:-0.32px;color:#ee5550;">-0.087 (-0.04%)</div>

<!-- sell / buy -->
<div class="abs" style="left:51px;top:402px;width:315px;height:68px;border-radius:10px;overflow:hidden;background:#1dd6a8;">
 <div style="position:absolute;left:0;top:0;width:157.5px;height:68px;background:#f7554f;"></div>
 <div style="position:absolute;left:116.5px;top:0;width:82.5px;height:26px;background:#fff;border-radius:0 0 6px 6px;"></div>
 <div style="position:absolute;left:133.5px;top:35.5px;width:48px;height:23px;background:#fff;border-radius:5px;"></div>
</div>
<div class="abs" id="s1" style="left:65.5px;top:412px;font-size:15.3px;color:#ffe9e6;">SELL</div>
<div class="abs" id="s2" style="left:65.5px;top:431.3px;font-size:23.55px;color:#fff1ef;">214.020</div>
<div class="abs" id="b1" style="left:270px;width:81.5px;text-align:right;top:412px;font-size:15.3px;color:#e6fff7;">BUY</div>
<div class="abs" id="b2" style="left:260.5px;top:431.3px;font-size:23.55px;color:#eafff8;">214.053</div>
<div class="abs" id="sp1" style="left:167.5px;width:82.5px;text-align:center;top:403.5px;font-size:21.6px;color:#20232e;">0.01</div>
<div class="abs" id="sp2" style="left:184.5px;width:48px;text-align:center;top:439.500px;font-size:20.3px;color:#20232e;">33</div>

<div id="sep"></div>
<div id="dl1" class="abs">Download FastBull App</div>
<div id="dl2" class="abs">Chats · Trading · News</div>

<!-- QR -->
<svg width="799" height="1920" viewBox="0 0 799 1920" style="pointer-events:none">
<rect x="619.7" y="1740.5" width="144.3" height="144" rx="5" fill="none" stroke="#ececee" stroke-width="1"/>
<g fill="none" stroke="#0a0a0a" stroke-width="2.3" stroke-linecap="round">
<path d="M637.5 1740.5H625.2Q619.7 1740.5 619.7 1746V1758.5"/>
<path d="M746.2 1740.5H758.500Q764 1740.5 764 1746V1758.5"/>
<path d="M637.5 1884.5H625.2Q619.7 1884.5 619.7 1879V1866.5"/>
<path d="M746.2 1884.5H758.500Q764 1884.5 764 1879V1866.5"/>
</g>
<g transform="translate(635.9 1756.8)" shape-rendering="crispEdges">
<path d="M0.00 0.00h27.03v3.91h-27.03zM30.90 0.00h3.86v3.91h-3.86zM46.34 0.00h7.72v3.91h-7.72zM57.93 0.00h3.86v3.91h-3.86zM65.66 0.00h15.45v3.91h-15.45zM84.97 0.00h27.03v3.91h-27.03zM0.00 3.86h3.86v3.91h-3.86zM23.17 3.86h3.86v3.91h-3.86zM30.90 3.86h3.86v3.91h-3.86zM42.48 3.86h11.59v3.91h-11.59zM69.52 3.86h3.86v3.91h-3.86zM84.97 3.86h3.86v3.91h-3.86zM108.14 3.86h3.86v3.91h-3.86zM0.00 7.72h3.86v3.91h-3.86zM7.72 7.72h11.59v3.91h-11.59zM23.17 7.72h3.86v3.91h-3.86zM38.62 7.72h11.59v3.91h-11.59zM69.52 7.72h3.86v3.91h-3.86zM84.97 7.72h3.86v3.91h-3.86zM92.69 7.72h11.59v3.91h-11.59zM108.14 7.72h3.86v3.91h-3.86zM0.00 11.59h3.86v3.91h-3.86zM7.72 11.59h11.59v3.91h-11.59zM23.17 11.59h3.86v3.91h-3.86zM30.90 11.59h11.59v3.91h-11.59zM54.07 11.59h7.72v3.91h-7.72zM65.66 11.59h3.86v3.91h-3.86zM84.97 11.59h3.86v3.91h-3.86zM92.69 11.59h11.59v3.91h-11.59zM108.14 11.59h3.86v3.91h-3.86zM0.00 15.45h3.86v3.91h-3.86zM7.72 15.45h11.59v3.91h-11.59zM23.17 15.45h3.86v3.91h-3.86zM38.62 15.45h3.86v3.91h-3.86zM46.34 15.45h3.86v3.91h-3.86zM54.07 15.45h11.59v3.91h-11.59zM73.38 15.45h3.86v3.91h-3.86zM84.97 15.45h3.86v3.91h-3.86zM92.69 15.45h11.59v3.91h-11.59zM108.14 15.45h3.86v3.91h-3.86zM0.00 19.31h3.86v3.91h-3.86zM23.17 19.31h3.86v3.91h-3.86zM34.76 19.31h3.86v3.91h-3.86zM42.48 19.31h3.86v3.91h-3.86zM50.21 19.31h3.86v3.91h-3.86zM69.52 19.31h7.72v3.91h-7.72zM84.97 19.31h3.86v3.91h-3.86zM108.14 19.31h3.86v3.91h-3.86zM0.00 23.17h27.03v3.91h-27.03zM30.90 23.17h3.86v3.91h-3.86zM38.62 23.17h3.86v3.91h-3.86zM46.34 23.17h3.86v3.91h-3.86zM54.07 23.17h3.86v3.91h-3.86zM61.79 23.17h3.86v3.91h-3.86zM69.52 23.17h3.86v3.91h-3.86zM77.24 23.17h3.86v3.91h-3.86zM84.97 23.17h27.03v3.91h-27.03zM30.90 27.03h19.31v3.91h-19.31zM65.66 27.03h11.59v3.91h-11.59zM0.00 30.90h3.86v3.91h-3.86zM7.72 30.90h7.72v3.91h-7.72zM19.31 30.90h11.59v3.91h-11.59zM38.62 30.90h3.86v3.91h-3.86zM50.21 30.90h3.86v3.91h-3.86zM61.79 30.90h7.72v3.91h-7.72zM84.97 30.90h3.86v3.91h-3.86zM96.55 30.90h3.86v3.91h-3.86zM104.28 30.90h7.72v3.91h-7.72zM7.72 34.76h11.59v3.91h-11.59zM30.90 34.76h7.72v3.91h-7.72zM50.21 34.76h7.72v3.91h-7.72zM61.79 34.76h15.45v3.91h-15.45zM81.10 34.76h15.45v3.91h-15.45zM108.14 34.76h3.86v3.91h-3.86zM0.00 38.62h11.59v3.91h-11.59zM23.17 38.62h3.86v3.91h-3.86zM30.90 38.62h15.45v3.91h-15.45zM50.21 38.62h3.86v3.91h-3.86zM61.79 38.62h3.86v3.91h-3.86zM69.52 38.62h3.86v3.91h-3.86zM77.24 38.62h7.72v3.91h-7.72zM88.83 38.62h7.72v3.91h-7.72zM100.41 38.62h7.72v3.91h-7.72zM0.00 42.48h7.72v3.91h-7.72zM11.59 42.48h7.72v3.91h-7.72zM27.03 42.48h3.86v3.91h-3.86zM42.48 42.48h3.86v3.91h-3.86zM57.93 42.48h3.86v3.91h-3.86zM69.52 42.48h11.59v3.91h-11.59zM88.83 42.48h7.72v3.91h-7.72zM108.14 42.48h3.86v3.91h-3.86zM0.00 46.34h3.86v3.91h-3.86zM19.31 46.34h7.72v3.91h-7.72zM34.76 46.34h3.86v3.91h-3.86zM46.34 46.34h3.86v3.91h-3.86zM54.07 46.34h3.86v3.91h-3.86zM65.66 46.34h3.86v3.91h-3.86zM73.38 46.34h3.86v3.91h-3.86zM96.55 46.34h7.72v3.91h-7.72zM3.86 50.21h7.72v3.91h-7.72zM19.31 50.21h3.86v3.91h-3.86zM27.03 50.21h11.59v3.91h-11.59zM42.48 50.21h7.72v3.91h-7.72zM54.07 50.21h15.45v3.91h-15.45zM73.38 50.21h3.86v3.91h-3.86zM84.97 50.21h7.72v3.91h-7.72zM100.41 50.21h11.59v3.91h-11.59zM3.86 54.07h3.86v3.91h-3.86zM11.59 54.07h3.86v3.91h-3.86zM23.17 54.07h3.86v3.91h-3.86zM30.90 54.07h3.86v3.91h-3.86zM46.34 54.07h7.72v3.91h-7.72zM61.79 54.07h7.72v3.91h-7.72zM73.38 54.07h3.86v3.91h-3.86zM84.97 54.07h11.59v3.91h-11.59zM100.41 54.07h11.59v3.91h-11.59zM0.00 57.93h11.59v3.91h-11.59zM30.90 57.93h3.86v3.91h-3.86zM46.34 57.93h3.86v3.91h-3.86zM54.07 57.93h11.59v3.91h-11.59zM77.24 57.93h3.86v3.91h-3.86zM88.83 57.93h7.72v3.91h-7.72zM104.28 57.93h3.86v3.91h-3.86zM3.86 61.79h3.86v3.91h-3.86zM15.45 61.79h11.59v3.91h-11.59zM34.76 61.79h7.72v3.91h-7.72zM46.34 61.79h3.86v3.91h-3.86zM54.07 61.79h7.72v3.91h-7.72zM69.52 61.79h15.45v3.91h-15.45zM92.69 61.79h7.72v3.91h-7.72zM104.28 61.79h3.86v3.91h-3.86zM3.86 65.66h7.72v3.91h-7.72zM27.03 65.66h7.72v3.91h-7.72zM42.48 65.66h3.86v3.91h-3.86zM54.07 65.66h7.72v3.91h-7.72zM65.66 65.66h3.86v3.91h-3.86zM77.24 65.66h7.72v3.91h-7.72zM88.83 65.66h3.86v3.91h-3.86zM96.55 65.66h11.59v3.91h-11.59zM0.00 69.52h3.86v3.91h-3.86zM11.59 69.52h3.86v3.91h-3.86zM23.17 69.52h3.86v3.91h-3.86zM30.90 69.52h7.72v3.91h-7.72zM50.21 69.52h11.59v3.91h-11.59zM65.66 69.52h3.86v3.91h-3.86zM77.24 69.52h7.72v3.91h-7.72zM88.83 69.52h3.86v3.91h-3.86zM100.41 69.52h3.86v3.91h-3.86zM19.31 73.38h3.86v3.91h-3.86zM27.03 73.38h3.86v3.91h-3.86zM46.34 73.38h23.17v3.91h-23.17zM81.10 73.38h7.72v3.91h-7.72zM100.41 73.38h3.86v3.91h-3.86zM3.86 77.24h3.86v3.91h-3.86zM15.45 77.24h3.86v3.91h-3.86zM23.17 77.24h3.86v3.91h-3.86zM38.62 77.24h30.90v3.91h-30.90zM73.38 77.24h30.90v3.91h-30.90zM30.90 81.10h7.72v3.91h-7.72zM61.79 81.10h19.31v3.91h-19.31zM92.69 81.10h19.31v3.91h-19.31zM0.00 84.97h27.03v3.91h-27.03zM30.90 84.97h7.72v3.91h-7.72zM42.48 84.97h7.72v3.91h-7.72zM54.07 84.97h3.86v3.91h-3.86zM61.79 84.97h3.86v3.91h-3.86zM69.52 84.97h11.59v3.91h-11.59zM84.97 84.97h3.86v3.91h-3.86zM92.69 84.97h7.72v3.91h-7.72zM104.28 84.97h3.86v3.91h-3.86zM0.00 88.83h3.86v3.91h-3.86zM23.17 88.83h3.86v3.91h-3.86zM30.90 88.83h3.86v3.91h-3.86zM42.48 88.83h19.31v3.91h-19.31zM69.52 88.83h3.86v3.91h-3.86zM77.24 88.83h3.86v3.91h-3.86zM92.69 88.83h7.72v3.91h-7.72zM108.14 88.83h3.86v3.91h-3.86zM0.00 92.69h3.86v3.91h-3.86zM7.72 92.69h11.59v3.91h-11.59zM23.17 92.69h3.86v3.91h-3.86zM38.62 92.69h3.86v3.91h-3.86zM46.34 92.69h3.86v3.91h-3.86zM57.93 92.69h11.59v3.91h-11.59zM77.24 92.69h19.31v3.91h-19.31zM100.41 92.69h3.86v3.91h-3.86zM0.00 96.55h3.86v3.91h-3.86zM7.72 96.55h11.59v3.91h-11.59zM23.17 96.55h3.86v3.91h-3.86zM30.90 96.55h19.31v3.91h-19.31zM57.93 96.55h11.59v3.91h-11.59zM81.10 96.55h3.86v3.91h-3.86zM92.69 96.55h7.72v3.91h-7.72zM108.14 96.55h3.86v3.91h-3.86zM0.00 100.41h3.86v3.91h-3.86zM7.72 100.41h11.59v3.91h-11.59zM23.17 100.41h3.86v3.91h-3.86zM30.90 100.41h11.59v3.91h-11.59zM69.52 100.41h7.72v3.91h-7.72zM81.10 100.41h3.86v3.91h-3.86zM88.83 100.41h3.86v3.91h-3.86zM100.41 100.41h3.86v3.91h-3.86zM108.14 100.41h3.86v3.91h-3.86zM0.00 104.28h3.86v3.91h-3.86zM23.17 104.28h3.86v3.91h-3.86zM42.48 104.28h15.45v3.91h-15.45zM61.79 104.28h3.86v3.91h-3.86zM69.52 104.28h3.86v3.91h-3.86zM77.24 104.28h3.86v3.91h-3.86zM88.83 104.28h3.86v3.91h-3.86zM96.55 104.28h3.86v3.91h-3.86zM104.28 104.28h3.86v3.91h-3.86zM0.00 108.14h27.03v3.91h-27.03zM30.90 108.14h7.72v3.91h-7.72zM42.48 108.14h3.86v3.91h-3.86zM54.07 108.14h7.72v3.91h-7.72zM69.52 108.14h11.59v3.91h-11.59zM96.55 108.14h3.86v3.91h-3.86zM104.28 108.14h3.86v3.91h-3.86z" fill="#000"/>
</g>
</svg>
</body>
</html>
